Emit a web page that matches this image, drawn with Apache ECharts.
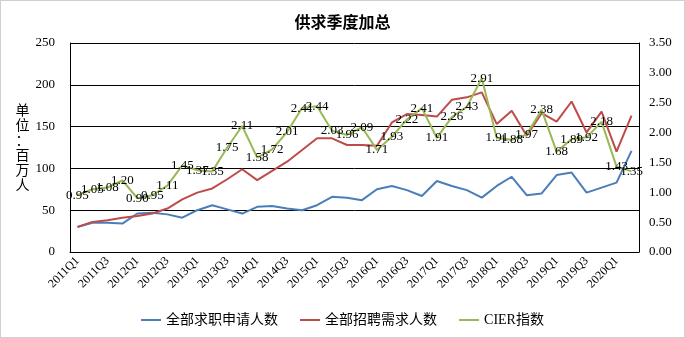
<!DOCTYPE html>
<html>
<head>
<meta charset="utf-8">
<script src="https://cdn.jsdelivr.net/npm/echarts@6/dist/echarts.min.js"></script>
<style>
html,body{margin:0;padding:0;background:#fff;}
#c{width:683px;height:336px;border:1px solid #d0d0d0;}
</style>
</head>
<body>
<div id="c"></div>
<script>
const categories = ["2011Q1","2011Q2","2011Q3","2011Q4","2012Q1","2012Q2","2012Q3","2012Q4",
"2013Q1","2013Q2","2013Q3","2013Q4","2014Q1","2014Q2","2014Q3","2014Q4",
"2015Q1","2015Q2","2015Q3","2015Q4","2016Q1","2016Q2","2016Q3","2016Q4",
"2017Q1","2017Q2","2017Q3","2017Q4","2018Q1","2018Q2","2018Q3","2018Q4",
"2019Q1","2019Q2","2019Q3","2019Q4","2020Q1","2020Q2"];
const jobSeekers = [30,35,35,34,46,47,45,41,50,56,51,46,54,55,52,50,56,66,65,62,75,79,74,67,85,79,74,65,79,90,68,70,92,95,71,77,83,121];
const jobDemand = [30,36,38,41,43,46,52,63,71,76,87,99,86,97,108,122,136,136,128,128,127,155,165,164,162,182,185,191,153,169,139,166,156,180,143,168,120,163];
const cierIndex = [0.95,1.05,1.08,1.20,0.90,0.95,1.11,1.45,1.37,1.35,1.75,2.11,1.58,1.72,2.01,2.41,2.44,2.03,1.96,2.09,1.71,1.93,2.22,2.41,1.91,2.26,2.43,2.91,1.91,1.88,1.97,2.38,1.68,1.89,1.92,2.18,1.43,1.35];
const seriesNames = ["全部求职申请人数","全部招聘需求人数","CIER指数"];
const leftTicks = {min:0,max:250,interval:50};
const rightTicks = {min:0,max:3.5,interval:0.5};

const serif = "Liberation Serif, DejaVu Serif, serif";
const mixed = "Liberation Serif, Noto Sans CJK SC, serif";
const cjk = "Noto Sans CJK SC, sans-serif";
const chart = echarts.init(document.getElementById('c'));
chart.setOption({
  animation:false,
  title:{text:'供求季度加总',left:'center',top:8,textStyle:{fontFamily:cjk,fontSize:16,fontWeight:'bold',color:'#000'}},
  grid:{left:69,right:45,top:42,bottom:85},
  legend:{bottom:5,left:'center',itemGap:22,itemWidth:20,itemHeight:2,icon:'rect',
    textStyle:{fontFamily:mixed,fontSize:14,color:'#000'},
    data:seriesNames},
  xAxis:{type:'category',data:categories,boundaryGap:true,
    axisLine:{lineStyle:{color:'#000',width:1}},axisTick:{show:false},
    axisLabel:{interval:1,rotate:45,fontFamily:serif,fontSize:12,color:'#000',margin:7}},
  yAxis:[
    {type:'value',min:leftTicks.min,max:leftTicks.max,interval:leftTicks.interval,
     name:'单\n位\n：\n百\n万\n人',nameLocation:'middle',nameRotate:0,nameGap:40,
     nameTextStyle:{fontFamily:cjk,fontSize:14,lineHeight:15,color:'#000'},
     axisLine:{show:true,lineStyle:{color:'#000'}},axisTick:{show:false},
     splitLine:{lineStyle:{color:'#000',width:1}},
     axisLabel:{fontFamily:serif,fontSize:13,color:'#000',margin:15}},
    {type:'value',min:rightTicks.min,max:rightTicks.max,interval:rightTicks.interval,
     axisLine:{show:true,lineStyle:{color:'#000'}},axisTick:{show:false},
     splitLine:{show:false},
     axisLabel:{fontFamily:serif,fontSize:13,color:'#000',margin:10,formatter:v=>v.toFixed(2)}}
  ],
  series:[
    {name:seriesNames[0],type:'line',data:jobSeekers,yAxisIndex:0,symbol:'none',
     lineStyle:{color:'#4a7ebb',width:2},itemStyle:{color:'#4a7ebb'}},
    {name:seriesNames[1],type:'line',data:jobDemand,yAxisIndex:0,symbol:'none',
     lineStyle:{color:'#be4b48',width:2},itemStyle:{color:'#be4b48'}},
    {name:seriesNames[2],type:'line',data:cierIndex,yAxisIndex:1,symbol:'circle',symbolSize:0.5,showSymbol:true,
     lineStyle:{color:'#98b954',width:2},itemStyle:{color:'#98b954'},
     label:{show:true,position:'inside',fontFamily:serif,fontSize:13,color:'#000',formatter:p=>p.value.toFixed(2)},
     labelLayout:{hideOverlap:false}}
  ]
});
</script>
</body>
</html>
